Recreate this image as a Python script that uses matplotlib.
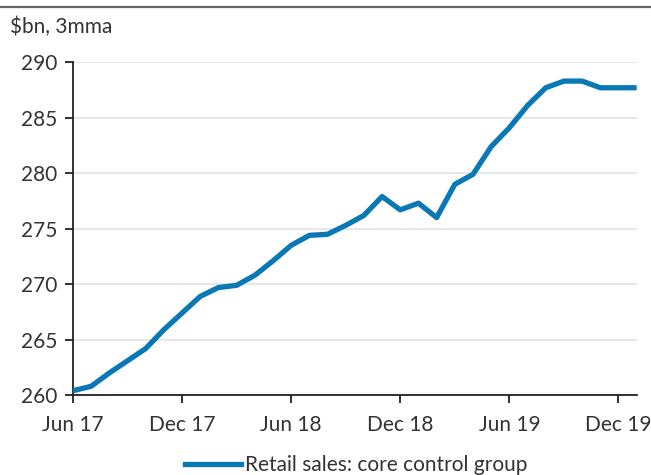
import matplotlib.pyplot as plt
import matplotlib.lines as mlines


# ----------------------------
# Data (monthly, Jun 17 - Jan 20)
# ----------------------------

months = list(range(32))

retail_sales = [
    260.4, 260.8, 262.0, 263.1, 264.2, 265.9,
    267.4, 268.9, 269.7, 269.9, 270.8, 272.1,
    273.5, 274.4, 274.5, 275.3, 276.2, 277.9,
    276.7, 277.3, 276.0, 279.0, 279.9, 282.4,
    284.1, 286.1, 287.7, 288.3, 288.3, 287.7,
    287.7, 287.7,
]

tick_positions = [0, 6, 12, 18, 24, 30]
tick_labels = ["Jun 17", "Dec 17", "Jun 18", "Dec 18", "Jun 19", "Dec 19"]

y_ticks = [260, 265, 270, 275, 280, 285, 290]

LINE_COLOR = "#0a78b4"
TEXT_COLOR = "#333333"
FONT_SIZE = 15

plt.rcParams["font.family"] = ["Lato", "DejaVu Sans"]


# ----------------------------
# Figure
# ----------------------------

fig = plt.figure(figsize=(6.51, 4.75), dpi=100)

ax = fig.add_axes([0.112, 0.168, 0.866, 0.701])

ax.plot(
    months,
    retail_sales,
    color=LINE_COLOR,
    linewidth=3.8,
    solid_joinstyle="round",
    solid_capstyle="butt",
    zorder=3
)

ax.set_xlim(0, 31)
ax.set_ylim(260, 290)

ax.set_yticks(y_ticks)
ax.set_xticks(tick_positions)
ax.set_xticklabels(tick_labels)

ax.grid(axis="y", color="#e3e3e3", linewidth=1.2, zorder=0)

for side in ["top", "right"]:
    ax.spines[side].set_visible(False)

for side in ["left", "bottom"]:
    ax.spines[side].set_color("#222222")
    ax.spines[side].set_linewidth(1.3)

ax.tick_params(
    axis="both",
    colors="#222222",
    labelcolor=TEXT_COLOR,
    labelsize=FONT_SIZE,
    width=1.3,
    length=6
)
ax.tick_params(axis="y", pad=5)
ax.tick_params(axis="x", pad=8)


# ----------------------------
# Title, top rule, legend
# ----------------------------

fig.text(
    0.015, 0.944,
    "$bn, 3mma",
    fontsize=FONT_SIZE,
    color=TEXT_COLOR,
    ha="left",
    va="center"
)

fig.add_artist(
    mlines.Line2D(
        [0, 1], [0.985, 0.985],
        color="#666666",
        linewidth=1.6,
        transform=fig.transFigure
    )
)

handle = mlines.Line2D([], [], color=LINE_COLOR, linewidth=3.8)

fig.legend(
    [handle],
    ["Retail sales: core control group"],
    loc="center",
    bbox_to_anchor=(0.547, 0.021),
    frameon=False,
    fontsize=FONT_SIZE,
    labelcolor=TEXT_COLOR,
    handlelength=2.7,
    handletextpad=0.15
)

fig.savefig("out.png", dpi=100)
plt.close(fig)
